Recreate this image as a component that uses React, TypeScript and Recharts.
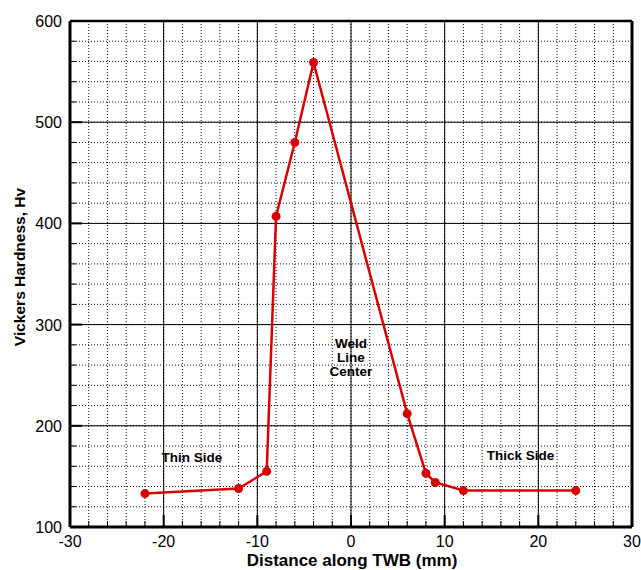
import {
  LineChart,
  Line,
  XAxis,
  YAxis,
  CartesianGrid,
  ReferenceLine,
  ReferenceDot,
} from 'recharts';

const FONT = '"Liberation Sans", Arial, Helvetica, sans-serif';
const RED = '#d80000';

// hardness profile across the weld
const distance = [-22, -12, -9, -8, -6, -4, 6, 8, 9, 12, 24];
const hardness = [133, 138, 155, 407, 480, 559, 212, 153, 144, 136, 136];

const xTicks = [
  -30, -28, -26, -24, -22, -20, -18, -16, -14, -12, -10, -8, -6, -4, -2, 0,
  2, 4, 6, 8, 10, 12, 14, 16, 18, 20, 22, 24, 26, 28, 30,
];
const yTicks = [
  100, 120, 140, 160, 180, 200, 220, 240, 260, 280, 300, 320, 340, 360, 380,
  400, 420, 440, 460, 480, 500, 520, 540, 560, 580, 600,
];
const xMajor = [-20, -10, 0, 10, 20];
const yMajor = [200, 300, 400, 500];

const notes = [
  { x: -17, y: 169, lines: ['Thin Side'] },
  { x: 18.1, y: 171, lines: ['Thick Side'] },
  { x: 0, y: 267, lines: ['Weld', 'Line', 'Center'] },
];

const chartData = distance.map((d, i) => ({ d, hv: hardness[i] }));

function XTick(props: any) {
  const { x, y, payload } = props;
  const major = payload.value % 10 === 0;
  return (
    <g>
      <line
        x1={x}
        x2={x}
        y1={y}
        y2={y - (major ? 12 : 6)}
        stroke="#000"
        strokeWidth={major ? 2 : 1}
      />
      {major && (
        <text
          x={x}
          y={y + 20}
          textAnchor="middle"
          fontSize={16}
          fontFamily={FONT}
          fill="#000"
        >
          {payload.value}
        </text>
      )}
    </g>
  );
}

function YTick(props: any) {
  const { x, y, payload } = props;
  const major = payload.value % 100 === 0;
  return (
    <g>
      <line
        x1={x}
        x2={x + (major ? 12 : 6)}
        y1={y}
        y2={y}
        stroke="#000"
        strokeWidth={major ? 2 : 1}
      />
      {major && (
        <text
          x={x - 8}
          y={y + 6}
          textAnchor="end"
          fontSize={16}
          fontFamily={FONT}
          fill="#000"
        >
          {payload.value}
        </text>
      )}
    </g>
  );
}

function noteLabel(lines: string[]) {
  return (props: any) => {
    const vb = props.viewBox || {};
    const cx = vb.x + (vb.width || 0) / 2;
    const cy = vb.y + (vb.height || 0) / 2;
    const top = cy - ((lines.length - 1) * 14) / 2 + 4.5;
    return (
      <text
        textAnchor="middle"
        fontSize={13.5}
        fontWeight="bold"
        fontFamily={FONT}
        fill="#000"
      >
        {lines.map((t, i) => (
          <tspan key={t} x={cx} y={top + i * 14}>
            {t}
          </tspan>
        ))}
      </text>
    );
  };
}

export default function App() {
  return (
    <div style={{ position: 'absolute', left: 0, top: 0, background: '#fff' }}>
      <LineChart
        width={641}
        height={570}
        data={chartData}
        margin={{ top: 21, right: 9, bottom: 0, left: 10 }}
      >
        <CartesianGrid stroke="#111" strokeDasharray="1 2" strokeWidth={1} />
        <XAxis
          dataKey="d"
          type="number"
          domain={[-30, 30]}
          ticks={xTicks}
          interval={0}
          tick={<XTick />}
          tickLine={false}
          tickSize={0}
          tickMargin={0}
          height={43}
          axisLine={{ stroke: '#000', strokeWidth: 3 }}
          allowDataOverflow
          label={{
            content: (p: any) => (
              <text
                x={p.viewBox.x + p.viewBox.width / 2 + 1}
                y={566}
                textAnchor="middle"
                fontSize={17}
                fontWeight="bold"
                fontFamily={FONT}
                fill="#000"
              >
                Distance along TWB (mm)
              </text>
            ),
          }}
        />
        <YAxis
          type="number"
          domain={[100, 600]}
          ticks={yTicks}
          interval={0}
          tick={<YTick />}
          tickLine={false}
          tickSize={0}
          tickMargin={0}
          width={60}
          axisLine={{ stroke: '#000', strokeWidth: 3 }}
          allowDataOverflow
          label={{
            content: () => (
              <text
                transform="translate(25 267) rotate(-90)"
                textAnchor="middle"
                fontSize={15.5}
                fontWeight="bold"
                fontFamily={FONT}
                fill="#000"
              >
                Vickers Hardness, Hv
              </text>
            ),
          }}
        />
        {xMajor.map((v) => (
          <ReferenceLine key={'x' + v} x={v} stroke="#000" strokeWidth={1} />
        ))}
        {yMajor.map((v) => (
          <ReferenceLine key={'y' + v} y={v} stroke="#000" strokeWidth={1} />
        ))}
        <ReferenceLine y={600} stroke="#000" strokeWidth={2.5} />
        <ReferenceLine x={30} stroke="#000" strokeWidth={3} />
        {notes.map((n) => (
          <ReferenceDot
            key={n.lines.join(' ')}
            x={n.x}
            y={n.y}
            r={0}
            fill="none"
            stroke="none"
            label={{ content: noteLabel(n.lines) }}
          />
        ))}
        <Line
          type="linear"
          dataKey="hv"
          stroke={RED}
          strokeWidth={2.5}
          dot={{ r: 4.5, fill: RED, stroke: RED, strokeWidth: 0 }}
          isAnimationActive={false}
        />
      </LineChart>
    </div>
  );
}
